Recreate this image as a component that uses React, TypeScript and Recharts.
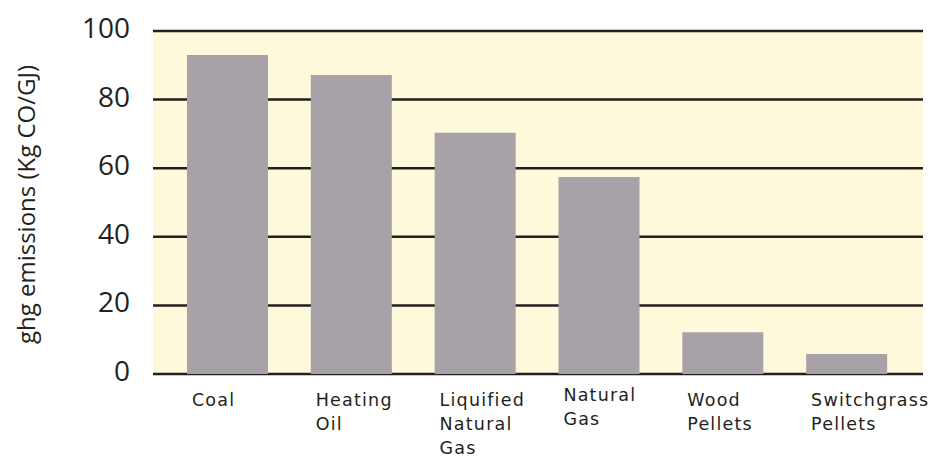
import React from 'react';
import { BarChart, Bar, XAxis, YAxis, CartesianGrid } from 'recharts';

const categories = ['Coal', 'Heating Oil', 'Liquified Natural Gas', 'Natural Gas', 'Wood Pellets', 'Switchgrass Pellets'];
const emissions = [93.0, 87.2, 70.3, 57.4, 12.2, 5.8];
const yTicks = [0, 20, 40, 60, 80, 100];
const labelLines: Record<string, string[]> = {
  Coal: ['Coal'],
  'Heating Oil': ['Heating', 'Oil'],
  'Liquified Natural Gas': ['Liquified', 'Natural', 'Gas'],
  'Natural Gas': ['Natural', 'Gas'],
  'Wood Pellets': ['Wood', 'Pellets'],
  'Switchgrass Pellets': ['Switchgrass', 'Pellets'],
};

const data = categories.map((name, i) => ({ name, value: emissions[i] }));

const INK = '#231f20';
const BAR_SIZE = 81;

function CategoryTick({ x, y, payload }: any) {
  const lines = labelLines[payload.value] || [payload.value];
  const lift = payload.value === 'Natural Gas' ? -5 : 0;
  const left = x - 36;
  return (
    <text
      x={left}
      y={y + lift}
      fill={INK}
      fontSize={17.5}
      fontFamily="'DejaVu Sans', sans-serif"
      letterSpacing={1.2}
      textAnchor="start"
    >
      {lines.map((line, i) => (
        <tspan key={i} x={left} dy={i === 0 ? 16 : 24}>
          {line}
        </tspan>
      ))}
    </text>
  );
}

function ValueTick({ x, y, payload }: any) {
  return (
    <text
      x={x}
      y={y}
      dy={7}
      fill={INK}
      fontSize={28}
      fontFamily="'Open Sans', sans-serif"
      textAnchor="end"
    >
      {payload.value}
    </text>
  );
}

export default function App() {
  return (
    <div style={{ position: 'absolute', left: 0, top: 0, background: '#fff' }}>
      <BarChart
        width={947}
        height={459}
        data={data}
        margin={{ top: 31, right: 24, left: 0, bottom: 0 }}
        barCategoryGap={0}
      >
        <CartesianGrid
          vertical={false}
          stroke={INK}
          strokeWidth={2.5}
          fill="#fef9db"
          fillOpacity={1}
        />
        <XAxis
          dataKey="name"
          axisLine={false}
          tickLine={false}
          interval={0}
          tickSize={0}
          tickMargin={16}
          height={85}
          padding={{ left: 13, right: 14 }}
          tick={<CategoryTick />}
        />
        <YAxis
          domain={[0, 100]}
          ticks={yTicks}
          width={153}
          axisLine={false}
          tickLine={false}
          tickSize={0}
          tickMargin={23}
          tick={<ValueTick />}
          label={{
            value: 'ghg emissions (Kg CO/GJ)',
            angle: -90,
            position: 'insideLeft',
            offset: 26,
            dy: 2,
            style: { textAnchor: 'middle', fontSize: 24, fill: INK, fontFamily: "'Open Sans', sans-serif" },
          }}
        />
        <Bar dataKey="value" fill="#a7a2a7" barSize={BAR_SIZE} isAnimationActive={false} />
      </BarChart>
    </div>
  );
}
